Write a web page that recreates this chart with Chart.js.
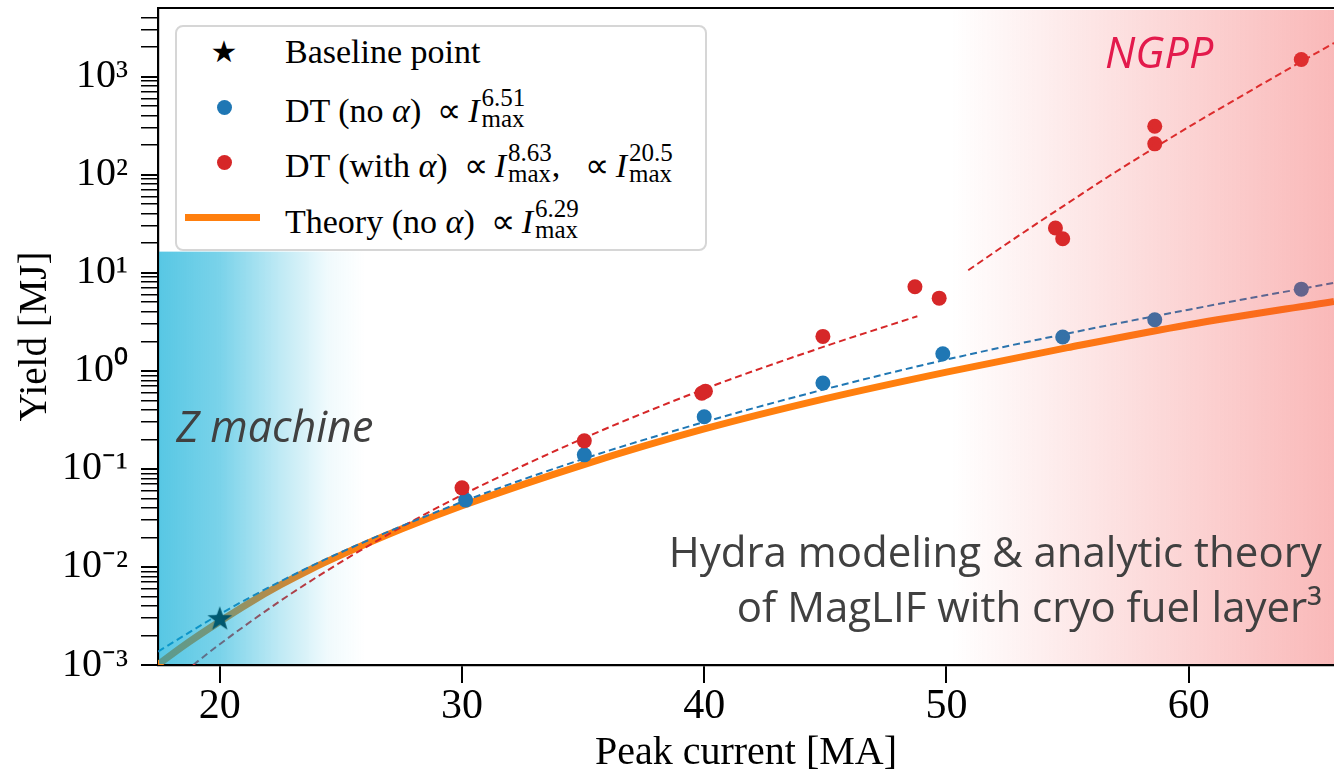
<!DOCTYPE html>
<html>
<head>
<meta charset="utf-8">
<script src="https://cdn.jsdelivr.net/npm/chart.js@4/dist/chart.umd.min.js"></script>
<style>
  html, body { margin: 0; padding: 0; background: #fff; }
  #wrap { position: relative; width: 1334px; height: 773px; }
  #legend {
    position: absolute; left: 175px; top: 25px; width: 532px; height: 226px;
    box-sizing: border-box; border: 2px solid #d6d6d6; border-radius: 8px; background: #fff;
    font-family: 'Liberation Serif', 'Times New Roman', serif; font-size: 34px; color: #000;
  }
  .row { position: absolute; left: 108px; height: 40px; line-height: 40px; white-space: nowrap; }
  .mk { position: absolute; }
  .dot { width: 15px; height: 15px; border-radius: 50%; left: 40px; }
  .star { left: 47px; top: 25px; transform: translate(-50%, -50%); font-family: 'DejaVu Sans', sans-serif; font-size: 30px; line-height: 1; }
  .prop { margin: 0 7px 0 16px; }
  .ss { display: inline-flex; flex-direction: column; font-size: 25px; line-height: 21px; vertical-align: 16px; margin-left: 2px; }
</style>
</head>
<body>
<div id="wrap">
  <canvas id="chart-yield" width="1334" height="773"></canvas>
  <div id="legend">
    <span class="mk star">★</span>
    <span class="mk dot" style="top:73px;background:#1f77b4"></span>
    <span class="mk dot" style="top:128px;background:#d62728"></span>
    <span class="mk" style="left:8px;top:187px;width:75px;height:7px;background:#ff7f0e"></span>
    <div class="row" style="top:5px">Baseline point</div>
    <div class="row" style="top:60px">DT (no <i>α</i>)<span class="prop">∝</span><i>I</i><span class="ss"><span>6.51</span><span>max</span></span></div>
    <div class="row" style="top:115px">DT (with <i>α</i>)<span class="prop">∝</span><i>I</i><span class="ss"><span>8.63</span><span>max</span></span>,&nbsp;<span class="prop">∝</span><i>I</i><span class="ss"><span>20.5</span><span>max</span></span></div>
    <div class="row" style="top:171px">Theory (no <i>α</i>)<span class="prop">∝</span><i>I</i><span class="ss"><span>6.29</span><span>max</span></span></div>
  </div>
</div>
<script>
// simulation points (peak current in MA, yield in MJ)
const baselineCurrent = [20.0];
const baselineYield = [0.003];

const noAlphaCurrent = [30.15, 35.05, 40.0, 44.9, 49.85, 54.8, 58.6, 64.65];
const noAlphaYield = [0.048, 0.139, 0.34, 0.75, 1.49, 2.21, 3.31, 6.8];

const withAlphaCurrent = [30.0, 35.05, 39.9, 40.05, 44.9, 48.7, 49.7, 54.5, 54.8, 58.6, 58.6, 64.65];
const withAlphaYield = [0.064, 0.193, 0.59, 0.62, 2.24, 7.2, 5.5, 28.6, 22.2, 311, 206, 1490];

// curves
const theoryCurrent = [17.45, 18.5, 20, 21.25, 22.5, 23.75, 25, 27.5, 30, 35, 40, 45, 50, 55, 60, 66];
const theoryYield = [0.00101, 0.00157, 0.00278, 0.00435, 0.00654, 0.00946, 0.0132, 0.0243, 0.042, 0.11, 0.255, 0.52, 0.97, 1.72, 2.95, 5.1];

const fitNoAlphaCurrent = [17.45, 20, 22.5, 25, 30, 35, 40, 45, 50, 55, 60, 66];
const fitNoAlphaYield = [0.00137, 0.0033, 0.0071, 0.0141, 0.046, 0.126, 0.30, 0.65, 1.3, 2.4, 4.2, 7.9];

const fitAlphaLowCurrent = [18.9, 20, 22.5, 25, 27.5, 30, 35, 40, 45, 48.8];
const fitAlphaLowYield = [0.001, 0.00163, 0.0045, 0.0112, 0.0255, 0.054, 0.204, 0.65, 1.78, 3.6];

const fitAlphaHighCurrent = [50.9, 53, 55, 57, 60, 63, 66];
const fitAlphaHighYield = [10.6, 24, 51, 107, 306, 830, 2200];

// axes
const xTicks = [20, 30, 40, 50, 60];
const yMajor = [1e-3, 1e-2, 1e-1, 1, 10, 100, 1000];
const yMinorSteps = [2, 3, 4, 5, 6, 7, 8, 9];

// shaded regions
const zMachineEnd = 26;
const zMachineTop = 16.4;
const ngppStart = 50.2;

function pts(xs, ys) {
  return xs.map((v, i) => ({x: v, y: ys[i]}));
}

const supChars = {'-': '⁻', '0': '⁰', '1': '¹', '2': '²', '3': '³'};
function powLabel(v) {
  const e = Math.round(Math.log10(v));
  return '10' + String(e).split('').map(c => supChars[c]).join('');
}

// filled star marker
const starImg = document.createElement('canvas');
starImg.width = 26; starImg.height = 26;
(function() {
  const c = starImg.getContext('2d');
  c.fillStyle = '#000';
  c.beginPath();
  for (let i = 0; i < 10; i++) {
    const r = i % 2 === 0 ? 13 : 5.2;
    const a = -Math.PI / 2 + i * Math.PI / 5;
    c.lineTo(13 + r * Math.cos(a), 14 + r * Math.sin(a));
  }
  c.closePath();
  c.fill();
})();

const shading = {
  id: 'shading',
  afterDatasetsDraw(chart) {
    const {ctx, chartArea: a, scales: {x, y}} = chart;
    ctx.save();
    const zx1 = x.getPixelForValue(zMachineEnd);
    const zy0 = y.getPixelForValue(zMachineTop);
    let g = ctx.createLinearGradient(a.left, 0, zx1, 0);
    g.addColorStop(0, 'rgba(0,170,214,0.66)');
    g.addColorStop(0.3, 'rgba(0,170,214,0.52)');
    g.addColorStop(0.6, 'rgba(0,170,214,0.24)');
    g.addColorStop(0.82, 'rgba(0,170,214,0.06)');
    g.addColorStop(1, 'rgba(0,170,214,0)');
    ctx.fillStyle = g;
    ctx.fillRect(a.left + 1, zy0, zx1 - a.left - 1, a.bottom - zy0 - 1);

    const nx0 = x.getPixelForValue(ngppStart);
    g = ctx.createLinearGradient(nx0, 0, a.right, 0);
    g.addColorStop(0, 'rgba(240,60,60,0)');
    g.addColorStop(1, 'rgba(240,60,60,0.36)');
    ctx.fillStyle = g;
    ctx.fillRect(nx0, a.top + 2, a.right - nx0, a.bottom - a.top - 3);
    ctx.restore();
  },
  afterDraw(chart) {
    const {ctx, chartArea: a, scales: {x, y}} = chart;
    ctx.save();
    // top spine
    ctx.strokeStyle = '#000';
    ctx.lineWidth = 2.2;
    ctx.beginPath();
    ctx.moveTo(a.left - 1, a.top);
    ctx.lineTo(a.right, a.top);
    ctx.stroke();

    ctx.textBaseline = 'alphabetic';
    ctx.font = "italic 43px 'Open Sans'";
    ctx.fillStyle = '#404040';
    ctx.textAlign = 'left';
    ctx.fillText('Z machine', x.getPixelForValue(18.2), y.getPixelForValue(0.189));

    ctx.font = "italic 43px 'Open Sans'";
    ctx.fillStyle = '#e31a4c';
    ctx.fillText('NGPP', x.getPixelForValue(56.55), y.getPixelForValue(1235));

    ctx.font = "42px 'Open Sans'";
    ctx.fillStyle = '#404040';
    ctx.textAlign = 'right';
    ctx.fillText('Hydra modeling & analytic theory', x.getPixelForValue(65.5), y.getPixelForValue(0.01));
    ctx.fillText('of MagLIF with cryo fuel layer³', x.getPixelForValue(65.5), y.getPixelForValue(0.00275));
    ctx.restore();
  }
};

Chart.defaults.font.family = "'Liberation Serif', 'Times New Roman', serif";
Chart.defaults.color = '#000';

const dashedLine = {
  showLine: true,
  pointRadius: 0,
  borderWidth: 2,
  borderDash: [7, 4],
  cubicInterpolationMode: 'monotone',
  clip: 0,
  order: 4
};

const dataYield = {
  datasets: [
    {
      label: 'Theory (no α)',
      data: pts(theoryCurrent, theoryYield),
      showLine: true,
      pointRadius: 0,
      borderColor: '#ff7f0e',
      borderWidth: 7,
      cubicInterpolationMode: 'monotone',
      clip: 0,
      order: 5
    },
    Object.assign({label: 'fit no α', data: pts(fitNoAlphaCurrent, fitNoAlphaYield), borderColor: '#1f77b4'}, dashedLine),
    Object.assign({label: 'fit α low', data: pts(fitAlphaLowCurrent, fitAlphaLowYield), borderColor: '#d62728'}, dashedLine),
    Object.assign({label: 'fit α high', data: pts(fitAlphaHighCurrent, fitAlphaHighYield), borderColor: '#d62728'}, dashedLine),
    {
      label: 'DT (no α)',
      data: pts(noAlphaCurrent, noAlphaYield),
      backgroundColor: '#1f77b4',
      borderWidth: 0,
      pointRadius: 7.5,
      order: 2
    },
    {
      label: 'DT (with α)',
      data: pts(withAlphaCurrent, withAlphaYield),
      backgroundColor: '#d62728',
      borderWidth: 0,
      pointRadius: 7.5,
      order: 1
    },
    {
      label: 'Baseline point',
      data: pts(baselineCurrent, baselineYield),
      pointStyle: starImg,
      order: 0
    }
  ]
};

const configYield = {
  type: 'scatter',
  data: dataYield,
  options: {
    responsive: false,
    animation: false,
    devicePixelRatio: 1,
    layout: { autoPadding: false, padding: { top: 8, right: 0, bottom: 0, left: 0 } },
    plugins: {
      legend: { display: false },
      tooltip: { enabled: false }
    },
    scales: {
      x: {
        type: 'linear',
        min: 17.45,
        max: 66,
        afterBuildTicks: (scale) => { scale.ticks = xTicks.map(v => ({value: v})); },
        afterFit: (scale) => { scale.height = 108; scale.paddingLeft = 0; scale.paddingRight = 0; },
        ticks: {
          autoSkip: false,
          maxRotation: 0,
          padding: 3,
          font: { size: 42, lineHeight: 1 },
          callback: (v) => String(v)
        },
        grid: { drawOnChartArea: false, tickLength: 18, color: '#000', lineWidth: 2 },
        border: { display: true, color: '#000', width: 2.2 },
        title: { display: true, text: 'Peak current [MA]', font: { size: 40 }, padding: { top: 0, bottom: -4 } }
      },
      y: {
        type: 'logarithmic',
        min: 1e-3,
        max: 5000,
        afterBuildTicks: (scale) => {
          const t = [];
          for (const m of yMajor) {
            t.push({value: m});
            for (const s of yMinorSteps) {
              if (m * s < 5000) t.push({value: m * s});
            }
          }
          scale.ticks = t;
        },
        afterFit: (scale) => { scale.width = 158; scale.paddingTop = 0; scale.paddingBottom = 0; },
        ticks: {
          autoSkip: false,
          padding: 13,
          font: { size: 40 },
          callback: (v) => yMajor.includes(v) ? powLabel(v) : ''
        },
        grid: {
          drawOnChartArea: false,
          tickLength: 17,
          color: '#000',
          lineWidth: (c) => (c.tick && yMajor.includes(c.tick.value)) ? 2 : 1.5
        },
        border: { display: true, color: '#000', width: 2.2 },
        title: { display: true, text: 'Yield [MJ]', font: { size: 39 }, padding: { top: 12, bottom: 0 } }
      }
    }
  },
  plugins: [shading]
};

const chartYield = new Chart(
  document.getElementById('chart-yield'),
  configYield
);
</script>
</body>
</html>
